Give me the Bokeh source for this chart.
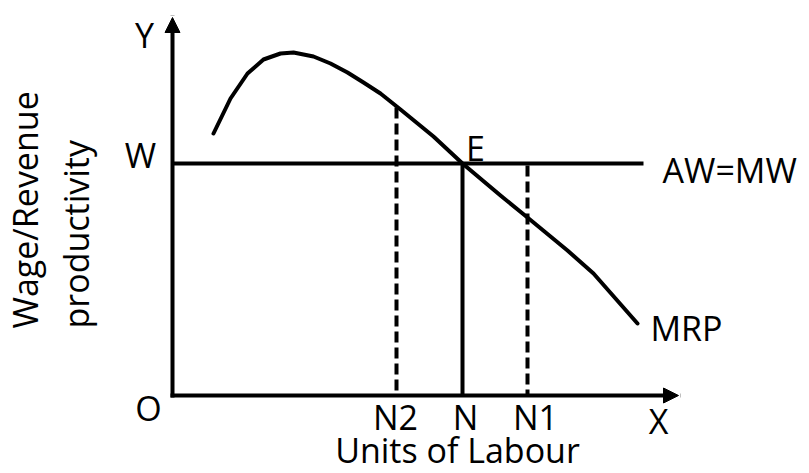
import math
from bokeh.plotting import figure
from bokeh.models import Range1d, Arrow, NormalHead
from bokeh.core.properties import value
from bokeh.embed import file_html
from bokeh.resources import INLINE

# ---- data (schematic units: labour on x, wage / revenue on y) ----
x_axis_end = 50.6
y_axis_end = 37.8
wage_W = 23.2
aw_line_end = 47.1

labour_labels = ["N2", "N", "N1"]
labour_values = [22.4, 29.0, 35.5]
labour_tops = [28.8, 23.2, 23.0]       # where each vertical line stops
labour_dashed = [True, False, True]

mrp_x = [4.1, 5.8, 7.5, 9.1, 10.8, 12.1, 14.1, 15.8, 17.5, 19.1, 20.8, 22.8,
         26.1, 29.0, 32.8, 35.5, 39.5, 42.1, 46.5]
mrp_y = [26.2, 29.7, 32.2, 33.6, 34.2, 34.3, 33.9, 33.2, 32.3, 31.3, 30.2, 28.6,
         25.9, 23.2, 20.0, 17.8, 14.5, 12.2, 7.2]

FONT = value("Open Sans")
FS = "34px"
INK = "#000000"
DY = -13  # baseline correction

p = figure(width=809, height=473, output_backend="svg", toolbar_location=None,
           x_range=Range1d(-17.2, 63.7), y_range=Range1d(-7.8, 39.5),
           x_axis_type=None, y_axis_type=None, min_border=0)
p.grid.visible = False
p.outline_line_color = None
p.background_fill_color = "white"
p.border_fill_color = "white"

# axes with arrow heads
p.add_layout(Arrow(end=NormalHead(size=15, fill_color=INK, line_color=INK, line_width=1),
                   x_start=0, y_start=0, x_end=0, y_end=y_axis_end,
                   line_width=4, line_color=INK, line_cap="square"))
p.add_layout(Arrow(end=NormalHead(size=15, fill_color=INK, line_color=INK, line_width=1),
                   x_start=0, y_start=0, x_end=x_axis_end, y_end=0,
                   line_width=4, line_color=INK, line_cap="square"))

# AW = MW line
p.segment(x0=[0], y0=[wage_W], x1=[aw_line_end], y1=[wage_W], line_width=4, line_color=INK)

# vertical lines at N2, N, N1
for xv, top, dashed in zip(labour_values, labour_tops, labour_dashed):
    p.segment(x0=[xv], y0=[top], x1=[xv], y1=[0], line_width=4, line_color=INK,
              line_dash="11 5" if dashed else "solid")

# MRP curve
p.line(mrp_x, mrp_y, line_width=4, line_color=INK, line_join="round", line_cap="round")

# labels
def label(x, y, t, align="center", angle=0.0, x_offset=0, y_offset=0):
    p.text(x=[x], y=[y], text=[t], text_font=FONT, text_font_size=FS, text_color=INK,
           text_align=align, text_baseline="alphabetic", angle=angle,
           x_offset=x_offset, y_offset=y_offset)

label(0, y_axis_end, "Y", x_offset=-28, y_offset=30 + DY)
label(0, wage_W, "W", x_offset=-32, y_offset=4 + DY)
label(0, 0, "O", x_offset=-24, y_offset=25 + DY)
label(x_axis_end, 0, "X", x_offset=-20, y_offset=38 + DY)
label(labour_values[1], wage_W, "E", x_offset=13, y_offset=-3 + DY)
for t, xv, dx in zip(labour_labels, labour_values, [-1, 3, 8]):
    label(xv, 0, t, x_offset=dx, y_offset=34 + DY)
label(labour_values[1], 0, "Units of Labour", x_offset=-5, y_offset=67 + DY)
label(aw_line_end, wage_W, "AW=MW", align="left", x_offset=19, y_offset=19 + DY)
label(mrp_x[-1], mrp_y[-1], "MRP", align="left", x_offset=13, y_offset=17 + DY)
label(0, 0, "Wage/Revenue", align="left", angle=math.pi / 2, x_offset=-135 + DY, y_offset=-67)
label(0, 0, "productivity", align="left", angle=math.pi / 2, x_offset=-84 + DY, y_offset=-67)

open("out.html", "w").write(file_html(p, INLINE))
